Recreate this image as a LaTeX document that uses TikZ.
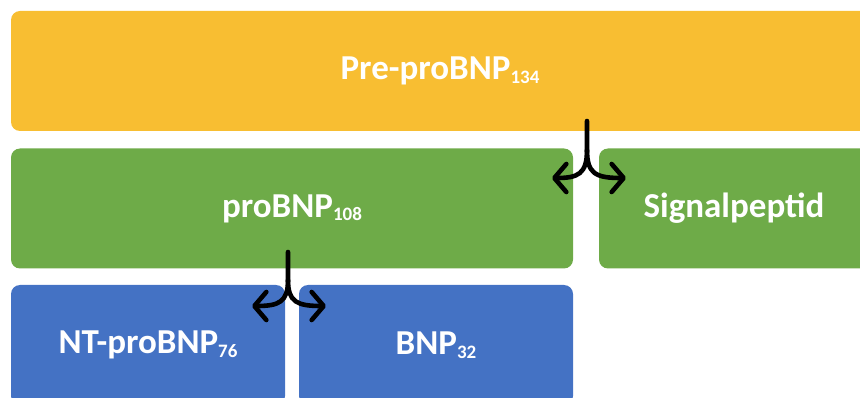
\documentclass[tikz,border=0pt]{standalone}
\usepackage{fontspec}
\setmainfont{Carlito}
\usetikzlibrary{arrows.meta}
\definecolor{cyellow}{HTML}{F8BE32}
\definecolor{cgreen}{HTML}{6EAB48}
\definecolor{cblue}{HTML}{4472C4}
\newcommand{\sbs}[1]{\raisebox{-3.5pt}{\fontsize{19}{19}\selectfont #1}}
\tikzset{
  box/.style={rectangle, rounded corners=9pt, inner sep=0pt, text=white,
    font=\fontsize{35}{35}\selectfont\bfseries, minimum height=120pt},
  split/.style={line width=4.6pt, line cap=round, line join=round,
    -{Straight Barb[round,length=12pt,width=28pt]}}
}
\begin{document}
\begin{tikzpicture}[x=1pt,y=-1pt]
\useasboundingbox (0,0) rectangle (860,398);
\clip (0,0) rectangle (860,398);
\node[box, fill=cyellow, minimum width=858pt] (pre) at (440,71) {Pre-proBNP\sbs{134}};
\node[box, fill=cgreen, minimum width=562pt] (pro) at (292,208.5) {proBNP\sbs{108}};
\node[box, fill=cgreen, minimum width=270pt] (sig) at (734,208.5) {Signalpeptid};
\node[box, fill=cblue, minimum width=274pt] (nt) at (148,345) {NT-proBNP\sbs{76}};
\node[box, fill=cblue, minimum width=274pt] (bnp) at (436,345) {BNP\sbs{32}};
% splitting connectors
\coordinate (s1) at (587,121);
\coordinate (m1) at (587,150);
\coordinate (l1) at (552,178);
\coordinate (r1) at (626,178);
\draw[split] (s1) -- (m1) .. controls (587,174) and (578,178) .. (l1);
\draw[split] (m1) .. controls (587,174) and (596,178) .. (r1);
\coordinate (s2) at (288,252);
\coordinate (m2) at (288,280);
\coordinate (l2) at (252,306);
\coordinate (r2) at (326,306);
\draw[split] (s2) -- (m2) .. controls (288,302) and (279,306) .. (l2);
\draw[split] (m2) .. controls (288,302) and (297,306) .. (r2);
\end{tikzpicture}
\end{document}
